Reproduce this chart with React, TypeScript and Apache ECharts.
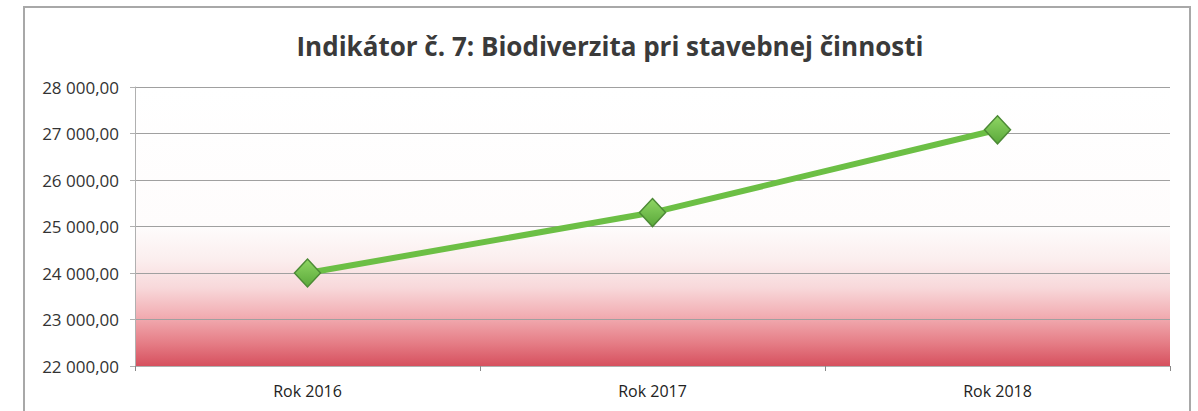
import React, { useEffect, useRef } from "react";
import * as echarts from "echarts";

const categories = ["Rok 2016", "Rok 2017", "Rok 2018"];
const values = [24000, 25300, 27080];
const yMin = 22000;
const yMax = 28000;
const yStep = 1000;
const titleText = "Indikátor č. 7: Biodiverzita pri stavebnej činnosti";

const fmt = (v: number) => {
  const [i, d] = v.toFixed(2).split(".");
  return i.replace(/\B(?=(\d{3})+(?!\d))/g, " ") + "," + d;
};

export default function App() {
  const ref = useRef<HTMLDivElement>(null);
  useEffect(() => {
    if (!ref.current) return;
    const chart = echarts.init(ref.current, undefined, { renderer: "svg" });
    const font = "'Open Sans', sans-serif";
    chart.setOption({
      animation: false,
      backgroundColor: "#ffffff",
      title: {
        text: titleText,
        left: 605,
        textAlign: "center",
        top: 28,
        textStyle: { fontFamily: font, fontSize: 26, fontWeight: "bold", color: "#3a3a3a" },
      },
      graphic: [
        {
          type: "rect",
          shape: { x: 24, y: 7, width: 1166, height: 420 },
          style: { fill: "none", stroke: "#a8a8a8", lineWidth: 2 },
          silent: true,
        },
      ],
      grid: {
        left: 135,
        right: 28,
        top: 87,
        bottom: 45,
        show: true,
        borderWidth: 0,
        backgroundColor: new echarts.graphic.LinearGradient(0, 0, 0, 1, [
          { offset: 0, color: "#ffffff" },
          { offset: 0.5, color: "#fefcfc" },
          { offset: 0.62, color: "#fbeeee" },
          { offset: 0.72, color: "#f8d8da" },
          { offset: 0.82, color: "#f2aeb3" },
          { offset: 0.92, color: "#e57c85" },
          { offset: 1, color: "#d6505e" },
        ]),
      },
      xAxis: {
        type: "category",
        data: categories,
        boundaryGap: true,
        axisLine: { show: true, lineStyle: { color: "#b0b0b0", width: 1 } },
        axisTick: { show: true, length: 5, lineStyle: { color: "#888" } },
        axisLabel: { fontFamily: font, fontSize: 16, color: "#222", margin: 17 },
      },
      yAxis: {
        type: "value",
        min: yMin,
        max: yMax,
        interval: yStep,
        axisLine: { show: true, lineStyle: { color: "#b0b0b0", width: 1 } },
        axisTick: { show: true, length: 5, lineStyle: { color: "#b0b0b0" } },
        axisLabel: {
          fontFamily: font,
          fontSize: 17,
          color: "#333",
          margin: 16,
          formatter: (v: number) => fmt(v),
        },
        splitLine: { show: true, lineStyle: { color: "#a0a0a0", width: 1 } },
      },
      series: [
        {
          type: "line",
          data: values,
          lineStyle: { color: "#6cbf45", width: 6 },
          symbol: "diamond",
          symbolSize: [26, 28],
          itemStyle: {
            color: new echarts.graphic.LinearGradient(0, 0, 0, 1, [
              { offset: 0, color: "#8fd664" },
              { offset: 1, color: "#5aa83a" },
            ]),
            borderColor: "#4c8a35",
            borderWidth: 1.5,
          },
          z: 5,
        },
      ],
    });
    return () => chart.dispose();
  }, []);
  return (
    <div
      ref={ref}
      style={{ position: "absolute", left: 0, top: 0, width: 1198, height: 411 }}
    />
  );
}
